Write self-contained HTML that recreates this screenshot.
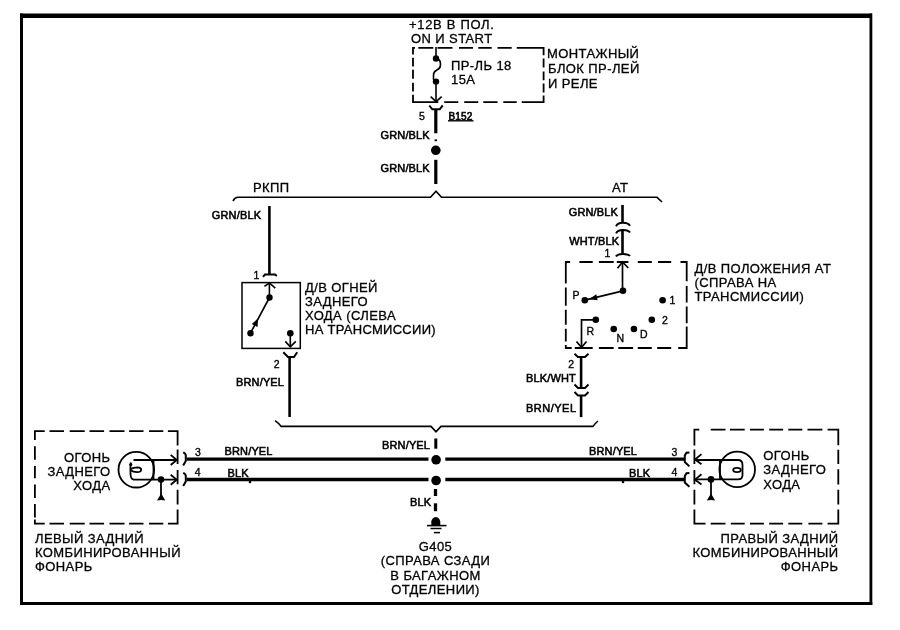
<!DOCTYPE html>
<html><head><meta charset="utf-8">
<style>
html,body{margin:0;padding:0;background:#fff;width:900px;height:630px;overflow:hidden}
svg{display:block;will-change:transform}
text{font-family:"Liberation Sans",sans-serif;fill:#000}
.t{font-size:13px;letter-spacing:0.4px;stroke:#000;stroke-width:0.3px}
.w{font-size:11px;letter-spacing:0.15px;stroke:#000;stroke-width:0.55px}
.s{font-size:10.5px;stroke:#000;stroke-width:0.35px}
.k{stroke:#000;fill:none}
.dd{stroke:#000;fill:none;stroke-width:1.8}
</style></head><body>
<svg width="900" height="630" viewBox="0 0 900 630">
<!-- border -->
<rect x="20" y="13.5" width="852" height="4.5" fill="#000"/>
<rect x="20" y="13.5" width="3" height="591.5" fill="#000"/>
<rect x="869.5" y="13.5" width="2.8" height="591.5" fill="#000"/>
<rect x="20" y="602" width="852.3" height="3" fill="#000"/>

<!-- top text -->
<text class="t" x="409" y="29" style="letter-spacing:0.68px">+12В В ПОЛ.</text>
<text class="t" x="411" y="43">ON И START</text>
<text class="t" x="547" y="58">МОНТАЖНЫЙ</text>
<text class="t" x="548" y="73">БЛОК ПР-ЛЕЙ</text>
<text class="t" x="548" y="87.5">И РЕЛЕ</text>
<text class="t" x="451" y="70">ПР-ЛЬ 18</text>
<text class="t" x="451" y="84">15А</text>

<!-- fuse box dashed -->
<path class="dd" d="M412.5 47.8L415 47.8M418.3 47.8L433.3 47.8M437.5 47.8L452.5 47.8M459 47.8L473 47.8M478.3 47.8L491.7 47.8M497.5 47.8L511.7 47.8M516.7 47.8L544.3 47.8M412.5 102.2L438.3 102.2M444.2 102.2L458.3 102.2M464.2 102.2L478.3 102.2M483.3 102.2L497.5 102.2M503.3 102.2L516.7 102.2M521.7 102.2L544.3 102.2M413 47L413 54.5M413 57.7L413 66.6M413 69.8L413 78.7M413 82.7L413 91.6M413 94.8L413 103M543.6 47L543.6 55.3M543.6 58.5L543.6 67.4M543.6 71.5L543.6 80.3M543.6 83.5L543.6 92.4M543.6 95.6L543.6 103"/>
<g class="k" stroke-width="1.6">
<line x1="436" y1="47" x2="436" y2="59"/>
<path d="M436 58.6 Q440.4 59.5 440.4 63 L440.4 66 Q440 68.5 436.5 70.3 Q433.5 72 433.5 75 L433.5 79 Q434 81.7 436 81.7"/>
<line x1="436" y1="82" x2="436" y2="102"/>
<path d="M430.7 96.7 L436 101.7 L441.7 96.7"/>
</g>
<path d="M429.3 105.5 L432.3 109.3 L439.8 109.3 L442.7 105.3" class="k" stroke-width="2"/>
<circle cx="436" cy="58.5" r="3.2" fill="#000"/>
<circle cx="436" cy="81.6" r="3.2" fill="#000"/>
<line x1="435.8" y1="109" x2="435.8" y2="133.3" stroke="#000" stroke-width="3.2"/>
<line x1="435.8" y1="139.4" x2="435.8" y2="141.2" stroke="#000" stroke-width="2.5"/>
<circle cx="435.8" cy="150.3" r="4.8" fill="#000"/>
<line x1="435.8" y1="159.8" x2="435.8" y2="184" stroke="#000" stroke-width="3.2"/>
<text class="s" x="419" y="119.5">5</text>
<text class="w" x="448.5" y="119.5" style="font-size:10px;stroke-width:0.6px">B152</text>
<line x1="448" y1="120.8" x2="473.5" y2="120.8" stroke="#000" stroke-width="1.4"/>
<text class="w" x="380.5" y="139">GRN/BLK</text>
<text class="w" x="380.5" y="172">GRN/BLK</text>

<!-- upper bus -->
<path d="M233 201 Q235 197.3 238 197.3 L430.5 197.3 L436 191.3 L441.5 197.3 L657 197.3 L662 202" class="k" stroke-width="1.6"/>
<text class="t" x="253" y="191.5">РКПП</text>
<text class="t" x="612" y="191.5">AT</text>

<!-- reverse switch (left) -->
<line x1="269.4" y1="206" x2="269.4" y2="274.5" stroke="#000" stroke-width="2.6"/>
<text class="w" x="211.8" y="218.5">GRN/BLK</text>
<text class="s" x="253.5" y="278.7">1</text>
<path d="M263 276.8 L265 274.5 L275 274.5 L276.8 276" class="k" stroke-width="2"/>
<rect x="242" y="282.6" width="58.3" height="65.8" class="k" stroke-width="1.5"/>
<g class="k" stroke-width="1.6">
<path d="M264.4 286.4 L269.4 283 L275.3 288.1"/>
<line x1="269.4" y1="283" x2="269.4" y2="297"/>
<line x1="269.5" y1="297.5" x2="250.5" y2="333"/>
<line x1="290.3" y1="333" x2="290.3" y2="347"/>
<path d="M285.3 341.4 L290.3 346.8 L295.8 341.4"/>
</g>
<path d="M283.3 352.2 L288 357 L294 357 L297.2 352.2" class="k" stroke-width="2"/>
<circle cx="269.5" cy="297.5" r="3.2" fill="#000"/>
<circle cx="250.5" cy="333.3" r="3.2" fill="#000"/>
<path d="M258 318.5 L257.6 327 L251.8 324 Z" fill="#000"/>
<circle cx="290.3" cy="333.3" r="3.3" fill="#000"/>
<line x1="289.6" y1="356" x2="289.6" y2="417" stroke="#000" stroke-width="2.6"/>
<text class="s" x="273.8" y="368.2">2</text>
<text class="t" x="305" y="292">Д/В ОГНЕЙ</text>
<text class="t" x="305" y="306">ЗАДНЕГО</text>
<text class="t" x="305" y="320">ХОДА (СЛЕВА</text>
<text class="t" x="305" y="334.2" style="letter-spacing:0.28px">НА ТРАНСМИССИИ)</text>
<text class="w" x="236" y="386">BRN/YEL</text>

<!-- AT switch (right) -->
<line x1="622.5" y1="205" x2="622.5" y2="222.5" stroke="#000" stroke-width="2.6"/>
<text class="w" x="568.7" y="215.8">GRN/BLK</text>
<path d="M616.1 226.3 Q617.5 222.8 622.8 222.8 Q628.5 222.8 630 225.8" class="k" stroke-width="2"/>
<path d="M616.1 233.3 Q617.5 230 622.8 230 Q628.5 230 630 232.5" class="k" stroke-width="2"/>
<line x1="622.5" y1="229.5" x2="622.5" y2="254" stroke="#000" stroke-width="2.6"/>
<text class="w" x="569.2" y="244.6">WHT/BLK</text>
<text class="s" x="604.5" y="256.7">1</text>
<path d="M616 256.5 Q617.5 253.9 622.8 253.9 Q628.5 253.9 630 256" class="k" stroke-width="2"/>
<path class="dd" d="M565 262L570.1 262M579.4 262L592.7 262M598.9 262L613.7 262M616.8 262L628.4 262M637.8 262L651.8 262M658 262L671.2 262M680.5 262L687.5 262M565 348L571.7 348M574.8 348L592.7 348M598.9 348L613.7 348M618.3 348L633.1 348M637.8 348L651.8 348M657.2 348L671.2 348M678.2 348L687.5 348M565.8 261.2L565.8 283.6M565.8 287.5L565.8 305.8M565.8 309.8L565.8 324.8M565.8 328.8L565.8 341.5M565.8 345L565.8 348.9M686.7 261.2L686.7 281.2M686.7 286L686.7 302.6M686.7 306.6L686.7 323.3M686.7 326.4L686.7 348.9"/>
<g class="k" stroke-width="1.7">
<path d="M617.5 268.3 L622.5 262 L628.3 268"/>
<line x1="622.5" y1="262" x2="622.5" y2="291"/>
<line x1="623" y1="290.8" x2="584.8" y2="300.2"/>
<path d="M595.8 319.8 L581.5 319.8 L581.5 347.5"/>
<path d="M576.5 341.5 L581.5 347.5 L586.5 341.5"/>
</g>
<path d="M574.5 353.7 L578 357 L585 357 L588.5 353.7" class="k" stroke-width="2"/>
<path d="M574.5 384.5 L578 388 L585 388 L588.5 384.5" class="k" stroke-width="2"/>
<path d="M574.5 392 L578 395.5 L585 395.5 L588.5 392" class="k" stroke-width="2"/>
<circle cx="623" cy="290.8" r="3.3" fill="#000"/>
<circle cx="584.8" cy="300.2" r="3.3" fill="#000"/>
<path d="M589 299.2 L597.7 300.3 L596.3 294.3 Z" fill="#000"/>
<circle cx="662.6" cy="300.3" r="3.3" fill="#000"/>
<circle cx="595.8" cy="319.8" r="3.3" fill="#000"/>
<circle cx="613.7" cy="329" r="3.3" fill="#000"/>
<circle cx="633.9" cy="329" r="3.3" fill="#000"/>
<circle cx="651.8" cy="319.8" r="3.3" fill="#000"/>
<text class="s" x="572.5" y="299">P</text>
<text class="s" x="669.5" y="303.5">1</text>
<text class="s" x="586.5" y="335.3">R</text>
<text class="s" x="616.5" y="342.3">N</text>
<text class="s" x="640" y="337.6">D</text>
<text class="s" x="662" y="324.4">2</text>
<text class="t" x="694.5" y="273">Д/В ПОЛОЖЕНИЯ AT</text>
<text class="t" x="694.5" y="287">(СПРАВА НА</text>
<text class="t" x="694.5" y="301">ТРАНСМИССИИ)</text>
<line x1="581.1" y1="357" x2="581.1" y2="388" stroke="#000" stroke-width="2.6"/>
<line x1="581.1" y1="395.5" x2="581.1" y2="417.1" stroke="#000" stroke-width="2.6"/>
<text class="s" x="568.3" y="367.8">2</text>
<text class="w" x="526" y="382">BLK/WHT</text>
<text class="w" x="526" y="412.3" style="letter-spacing:0.5px">BRN/YEL</text>

<!-- lower bus -->
<path d="M275 420.7 Q278.5 423 281 426.4 L431 426.4 L436 431.8 L441 426.4 L593 426.4 Q595.5 423 598 421" class="k" stroke-width="1.6"/>
<line x1="435.8" y1="438.5" x2="435.8" y2="448.7" stroke="#000" stroke-width="3"/>
<text class="w" x="382" y="449.3">BRN/YEL</text>

<!-- main lamp wires -->
<g stroke="#000" stroke-width="3.3">
<line x1="186.7" y1="459.1" x2="428.5" y2="459.1"/>
<line x1="445.3" y1="459.1" x2="684.4" y2="459.1"/>
<line x1="186.7" y1="479.5" x2="428.5" y2="479.5"/>
<line x1="445.3" y1="479.5" x2="684.4" y2="479.5"/>
<line x1="435.5" y1="489" x2="435.5" y2="496"/>
<line x1="435.5" y1="503.3" x2="435.5" y2="511.2"/>
</g>
<circle cx="436.1" cy="459.8" r="4.8" fill="#000"/>
<circle cx="436.1" cy="480.5" r="4.8" fill="#000"/>
<text class="w" x="410" y="505.5">BLK</text>
<circle cx="250" cy="482" r="1.3" fill="#000"/>
<circle cx="623" cy="482" r="1.3" fill="#000"/>
<!-- ground -->
<path d="M431.3 525 L431.3 521.5 Q431.8 517.8 435.8 516.9 Q439.8 517.8 440.3 521.5 L440.3 525 Z" fill="#000"/>
<line x1="427" y1="525.6" x2="446.5" y2="525.6" stroke="#000" stroke-width="1.6"/>
<line x1="430.5" y1="528.5" x2="441.5" y2="528.5" stroke="#000" stroke-width="1.5"/>
<line x1="433.9" y1="532.6" x2="440" y2="532.6" stroke="#000" stroke-width="1.5"/>
<text class="t" x="435.5" y="550.5" text-anchor="middle">G405</text>
<text class="t" x="435.5" y="565" text-anchor="middle">(СПРАВА СЗАДИ</text>
<text class="t" x="435.5" y="579.5" text-anchor="middle">В БАГАЖНОМ</text>
<text class="t" x="435.5" y="594" text-anchor="middle">ОТДЕЛЕНИИ)</text>

<!-- wire labels lamps -->
<text class="s" x="195" y="455.5">3</text>
<text class="w" x="224.5" y="455">BRN/YEL</text>
<text class="s" x="194.8" y="475.8">4</text>
<text class="w" x="227.5" y="476.7">BLK</text>
<text class="w" x="589" y="455">BRN/YEL</text>
<text class="s" x="671.5" y="455.5">3</text>
<text class="w" x="629" y="476.7">BLK</text>
<text class="s" x="671.5" y="475.8">4</text>

<!-- left lamp -->
<path class="dd" d="M34 431.1L44.7 431.1M49.5 431.1L64 431.1M69.7 431.1L84.7 431.1M89.5 431.1L104.1 431.1M109.5 431.1L124.5 431.1M129.1 431.1L143.5 431.1M149 431.1L163.3 431.1M167.9 431.1L178.5 431.1M34 523.6L44.7 523.6M49.5 523.6L64 523.6M69.7 523.6L84.7 523.6M89.5 523.6L104.1 523.6M109.5 523.6L124.5 523.6M129.1 523.6L143.5 523.6M149 523.6L163.3 523.6M167.9 523.6L178.5 523.6M34.9 430.3L34.9 440.1M34.9 446.3L34.9 459.7M34.9 465.9L34.9 478.3M34.9 484.6L34.9 497.9M34.9 504.1L34.9 517.4M34.9 519.5L34.9 524.5M177.6 430.3L177.6 445.5M177.6 449.4L177.6 464M177.6 470L177.6 484.3M177.6 489.8L177.6 504.5M177.6 509.5L177.6 524.5"/>
<text class="t" x="110.5" y="461.5" text-anchor="end">ОГОНЬ</text>
<text class="t" x="110.5" y="475.5" text-anchor="end">ЗАДНЕГО</text>
<text class="t" x="110.5" y="489.5" text-anchor="end">ХОДА</text>
<text class="t" x="35" y="542.5">ЛЕВЫЙ ЗАДНИЙ</text>
<text class="t" x="35" y="557">КОМБИНИРОВАННЫЙ</text>
<text class="t" x="35" y="570.8">ФОНАРЬ</text>
<g class="k" stroke-width="1.8">
<circle cx="136.3" cy="469.7" r="17.8"/>
<path d="M133.5 460 L176.7 460"/>
<path d="M133.5 479.7 L176.7 479.7"/>
<path d="M131 462.5 Q130.3 466 130.4 470 L130.6 475 Q131 479.5 134 479.7"/>
<path d="M130.8 469 Q133 467.3 137.5 467.3 Q141.3 467.5 141.2 469.7 Q141 472.1 137 472.1 Q133 472 131 470.5"/>
<line x1="153.5" y1="460" x2="153.5" y2="479.7"/>
<path d="M170.7 454.9 L176.7 460 L170.7 465"/>
<path d="M170.7 474.8 L176.7 479.8 L170.7 484.8"/>
<path d="M183.2 452.4 Q185.8 453.5 185.8 455.5 L185.8 461 L183.2 465.6" stroke-width="2"/>
<path d="M183.2 472.8 Q185.8 474 185.8 476 L185.8 481.5 L183.2 486" stroke-width="2"/>
<line x1="161" y1="480" x2="161" y2="497"/>
</g>
<circle cx="130.7" cy="464.5" r="1.6" fill="#000"/>
<path d="M157 500.5 L161.2 493.5 L165.3 500.5 L161.2 500 Z" fill="#000"/>
<circle cx="161" cy="479.6" r="3.3" fill="#000"/>

<!-- right lamp -->
<path class="dd" d="M693.6 429.6L699.3 429.6M710.7 429.6L725.5 429.6M729.9 429.6L744.7 429.6M750 429.6L763.9 429.6M769.2 429.6L783.1 429.6M788.3 429.6L802.3 429.6M807.5 429.6L822.4 429.6M827.6 429.6L839 429.6M693.6 523.6L705.5 523.6M710.7 523.6L725.5 523.6M730.8 523.6L744.7 523.6M750 523.6L763.9 523.6M769.2 523.6L783.1 523.6M788.3 523.6L802.3 523.6M808.4 523.6L822.4 523.6M827.6 523.6L839 523.6M694.4 428.8L694.4 445.5M694.4 449.4L694.4 464M694.4 470L694.4 484.3M694.4 489.8L694.4 504.5M694.4 509.5L694.4 524.5M838.3 428.8L838.3 445.3M838.3 449.8L838.3 464M838.3 469.3L838.3 484.4M838.3 489.8L838.3 504.5M838.3 509.5L838.3 524.5"/>
<text class="t" x="763.3" y="460">ОГОНЬ</text>
<text class="t" x="763.3" y="474.2">ЗАДНЕГО</text>
<text class="t" x="763.3" y="488.7">ХОДА</text>
<text class="t" x="838.5" y="542.5" text-anchor="end">ПРАВЫЙ ЗАДНИЙ</text>
<text class="t" x="838.5" y="557" text-anchor="end">КОМБИНИРОВАННЫЙ</text>
<text class="t" x="838.5" y="570.8" text-anchor="end">ФОНАРЬ</text>
<g class="k" stroke-width="1.8">
<circle cx="737.2" cy="469.4" r="17.8"/>
<path d="M695 460 L738 460 Q742.5 460 742.5 465 L742.5 475 Q742.5 479.4 738 479.4 L695 479.4"/>
<path d="M720 460 L720 479.4"/>
<ellipse cx="737" cy="470" rx="3.8" ry="2.1"/>
<path d="M701.5 454.1 L695 459.5 L701.5 464.2"/>
<path d="M701.5 474.3 L695 479.6 L701.5 484.5"/>
<path d="M689.4 452.5 L686.5 452.8 L684.8 455.5 L684.8 462 L689.4 466.4" stroke-width="2"/>
<path d="M689.4 472.9 L686.5 473.2 L684.8 476 L684.8 482.5 L689.4 486.8" stroke-width="2"/>
<line x1="711" y1="480" x2="711" y2="497"/>
</g>
<path d="M706.8 500.5 L711 493.5 L715.1 500.5 L711 500 Z" fill="#000"/>
<circle cx="711" cy="479.4" r="3.3" fill="#000"/>
</svg>
</body></html>
